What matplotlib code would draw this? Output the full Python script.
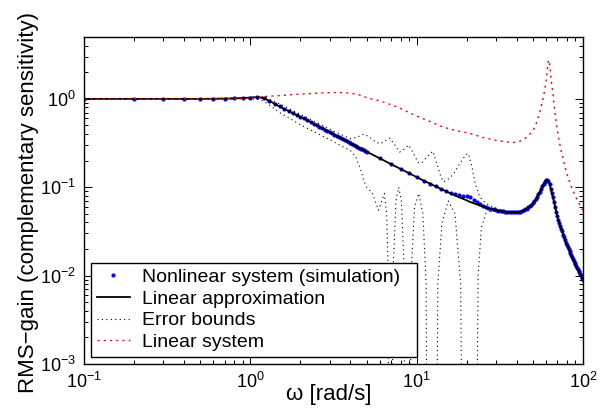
import numpy as np
import matplotlib
matplotlib.use('Agg')
import matplotlib.pyplot as plt
from matplotlib.ticker import LogLocator, NullFormatter

plt.rcParams['font.family'] = ['Liberation Sans', 'DejaVu Sans']
plt.rcParams['mathtext.fontset'] = 'custom'
plt.rcParams['mathtext.rm'] = 'Liberation Sans'
plt.rcParams['mathtext.it'] = 'Liberation Sans:italic'
plt.rcParams['mathtext.default'] = 'regular'

# ---- data ----
omega_sim = np.concatenate([np.arange(1, 51) / 10.0, np.arange(6, 101)])

linear_approx = [
    1.0, 1.0, 1.0, 1.0, 1.0, 1.003, 1.006, 1.012, 1.022, 1.035,
    1.045, 1.02, 0.95, 0.88, 0.82, 0.77, 0.73, 0.69, 0.655, 0.625,
    0.60, 0.573, 0.548, 0.525, 0.504, 0.485, 0.467, 0.45, 0.435, 0.42,
    0.406, 0.394, 0.382, 0.371, 0.36, 0.35, 0.341, 0.332, 0.323, 0.315,
    0.308, 0.30, 0.293, 0.287, 0.28, 0.274, 0.268, 0.263, 0.258, 0.253,
    0.212, 0.183, 0.161, 0.144, 0.13, 0.119, 0.11, 0.102, 0.096, 0.09,
    0.085, 0.081, 0.077, 0.074, 0.071, 0.068, 0.066, 0.064, 0.062, 0.061,
    0.059, 0.058, 0.057, 0.056, 0.055, 0.0545, 0.054, 0.0535, 0.053, 0.0525,
    0.0522, 0.052, 0.052, 0.052, 0.0522, 0.0526, 0.053, 0.054, 0.055, 0.056,
    0.057, 0.059, 0.061, 0.063, 0.066, 0.069, 0.073, 0.078, 0.083, 0.089,
    0.096, 0.103, 0.11, 0.116, 0.12, 0.121, 0.117, 0.108, 0.096, 0.085,
    0.077, 0.068, 0.06, 0.053, 0.047, 0.043, 0.039, 0.036, 0.034, 0.032,
    0.029, 0.027, 0.025, 0.0235, 0.022, 0.021, 0.02, 0.019, 0.0178, 0.017,
    0.0161, 0.0153, 0.0146, 0.014, 0.0134, 0.0128, 0.0123, 0.0118, 0.0114, 0.011,
    0.0105, 0.0101, 0.0097, 0.0093, 0.009,
]

nonlinear_sim = [
    1.0, 1.0, 1.0, 1.0, 1.0, 1.003, 1.006, 1.012, 1.022, 1.035,
    1.045, 1.02, 0.95, 0.88, 0.82, 0.77, 0.73, 0.69, 0.655, 0.625,
    0.60, 0.573, 0.548, 0.525, 0.504, 0.485, 0.467, 0.45, 0.435, 0.42,
    0.406, 0.394, 0.382, 0.371, 0.36, 0.35, 0.341, 0.332, 0.323, 0.315,
    0.308, 0.30, 0.293, 0.287, 0.28, 0.274, 0.268, 0.263, 0.258, 0.253,
    0.212, 0.183, 0.161, 0.144, 0.13, 0.119, 0.11, 0.102, 0.096, 0.09,
    0.086, 0.083, 0.081, 0.080, 0.079, 0.078, 0.072, 0.068, 0.064, 0.061,
    0.059, 0.058, 0.057, 0.056, 0.055, 0.0545, 0.054, 0.0535, 0.053, 0.0525,
    0.0522, 0.052, 0.052, 0.052, 0.0522, 0.0526, 0.053, 0.054, 0.055, 0.056,
    0.057, 0.059, 0.061, 0.063, 0.066, 0.069, 0.073, 0.078, 0.083, 0.089,
    0.096, 0.103, 0.11, 0.116, 0.12, 0.121, 0.117, 0.108, 0.096, 0.085,
    0.077, 0.068, 0.06, 0.053, 0.047, 0.043, 0.039, 0.036, 0.034, 0.032,
    0.029, 0.027, 0.025, 0.0235, 0.022, 0.021, 0.02, 0.019, 0.0178, 0.017,
    0.0161, 0.0153, 0.0146, 0.014, 0.0134, 0.0128, 0.0123, 0.0118, 0.0114, 0.011,
    0.0105, 0.0101, 0.0097, 0.0093, 0.009,
]

linear_system = [
    1.0, 1.0, 1.0, 1.0, 1.0, 1.0, 1.0, 1.005, 1.01, 1.02,
    1.04, 1.06, 1.07, 1.08, 1.09, 1.10, 1.11, 1.12, 1.125, 1.13,
    1.135, 1.14, 1.145, 1.15, 1.155, 1.16, 1.165, 1.17, 1.175, 1.18,
    1.18, 1.18, 1.18, 1.18, 1.18, 1.178, 1.175, 1.17, 1.165, 1.16,
    1.15, 1.14, 1.13, 1.12, 1.11, 1.095, 1.08, 1.065, 1.05, 1.03,
    0.95, 0.86, 0.78, 0.70, 0.64, 0.595, 0.555, 0.52, 0.49, 0.47,
    0.455, 0.44, 0.43, 0.42, 0.415, 0.405, 0.395, 0.385, 0.375, 0.366,
    0.36, 0.354, 0.348, 0.343, 0.339, 0.336, 0.333, 0.33, 0.327, 0.325,
    0.323, 0.322, 0.321, 0.322, 0.324, 0.328, 0.333, 0.34, 0.348, 0.358,
    0.37, 0.385, 0.40, 0.415, 0.435, 0.47, 0.51, 0.56, 0.63, 0.71,
    0.82, 0.95, 1.08, 1.3, 1.6, 2.1, 2.75, 2.5, 1.85, 1.4,
    1.15, 0.85, 0.68, 0.54, 0.45, 0.38, 0.33, 0.29, 0.255, 0.235,
    0.21, 0.19, 0.17, 0.155, 0.143, 0.132, 0.123, 0.115, 0.108, 0.102,
    0.097, 0.092, 0.087, 0.083, 0.079, 0.076, 0.073, 0.07, 0.067, 0.065,
    0.062, 0.06, 0.058, 0.056, 0.054,
]

upper_omega = [0.1, 0.3, 0.6, 0.9, 1.0, 1.1, 1.2, 1.5, 2.0, 2.5, 3.0, 3.5, 4.0,
               4.4, 4.8, 5.2, 5.6, 6.0, 6.4, 6.9, 7.4, 7.9, 8.4, 8.95, 9.6,
               10.2, 10.8, 11.5, 12.5, 13.3, 14.0, 14.5, 15.2, 16.0, 17.0,
               18.0, 19.0, 19.8, 20.5, 21.5, 22.5, 24.0, 26.0, 28.0, 30.0,
               33.0, 36.0, 40.0]
upper_bound = [1.0, 1.0, 1.01, 1.03, 1.04, 1.06, 1.06, 0.88, 0.67, 0.54, 0.455,
               0.395, 0.355, 0.37, 0.40, 0.37, 0.33, 0.31, 0.33, 0.36, 0.30,
               0.25, 0.27, 0.30, 0.24, 0.19, 0.19, 0.22, 0.256, 0.18, 0.13,
               0.115, 0.12, 0.13, 0.15, 0.18, 0.21, 0.235, 0.24, 0.17, 0.11,
               0.077, 0.066, 0.061, 0.058, 0.055, 0.053, 0.053]

lower_omega = [0.1, 0.3, 0.6, 0.9, 1.0, 1.1, 1.2, 1.5, 2.0, 2.5, 3.0, 3.5, 4.0,
               4.3, 4.6, 4.8, 5.0, 5.4, 5.9, 6.4, 6.6, 6.75, 6.8, 7.1, 7.2,
               7.5, 7.8, 8.1, 8.4, 8.5, 9.1, 9.25, 9.7, 10.3, 10.9, 11.4,
               11.6, 13.1, 13.4, 14.2, 15.5, 17.0, 18.4, 18.9, 22.8, 23.4,
               24.5, 26.0, 28.0, 30.0, 33.0, 36.0, 40.0]
lower_bound = [1.0, 1.0, 0.995, 1.0, 1.0, 0.99, 0.95, 0.70, 0.51, 0.41, 0.345,
               0.295, 0.26, 0.22, 0.16, 0.12, 0.1, 0.087, 0.055, 0.085, 0.05,
               0.01, 1e-5, 1e-5, 0.01, 0.07, 0.1, 0.07, 0.012, 1e-5, 1e-5,
               0.01, 0.06, 0.085, 0.05, 0.008, 1e-5, 1e-5, 0.008, 0.04, 0.07,
               0.05, 0.008, 1e-5, 1e-5, 0.01, 0.035, 0.05, 0.054, 0.053,
               0.051, 0.05, 0.051]

# ---- figure ----
fig = plt.figure(figsize=(6.05, 4.08), dpi=100)
ax = fig.add_axes([84 / 605, 1 - 364 / 408, (583 - 84) / 605, (364 - 37) / 408])

h_nl, = ax.plot(omega_sim, nonlinear_sim, linestyle='none', marker='.',
                color='blue', markersize=4, label='Nonlinear system (simulation)')
h_la, = ax.plot(omega_sim, linear_approx, color='black', lw=1.3,
                label='Linear approximation')
h_eb, = ax.plot(upper_omega, upper_bound, color='black', lw=0.8,
                linestyle=(0, (1, 3)), label='Error bounds')
ax.plot(lower_omega, lower_bound, color='black', lw=0.8, linestyle=(0, (1, 3)))
h_ls, = ax.plot(omega_sim, linear_system, color='red', lw=1.0,
                linestyle=(0, (1.5, 3)), label='Linear system')

ax.set_xscale('log')
ax.set_yscale('log')
ax.set_xlim(0.1, 100)
ax.set_ylim(1e-3, 10 ** 0.7)
ax.yaxis.set_major_locator(LogLocator(base=10, numticks=10))
ax.yaxis.set_minor_locator(LogLocator(base=10, subs=np.arange(2, 10), numticks=20))
ax.yaxis.set_minor_formatter(NullFormatter())
ax.xaxis.set_minor_formatter(NullFormatter())

ax.tick_params(which='both', direction='in', top=True, right=True,
               labelsize=13, width=0.7, pad=6)
ax.tick_params(which='major', length=6)
ax.tick_params(which='minor', length=3)
for s in ax.spines.values():
    s.set_linewidth(1.0)

ax.set_xlabel('\u03c9 [rad/s]', fontsize=16)
ax.xaxis.label.set_va('baseline')
ax.xaxis.set_label_coords((329 - 84) / 499, -(400 - 364) / 327)
ax.set_ylabel('RMS\u2212gain (complementary sensitivity)', fontsize=16)
ax.yaxis.set_label_coords((39 - 84) / 499, (364 - 202.5) / 327)

leg = ax.legend(handles=[h_nl, h_la, h_eb, h_ls], loc='lower left',
                bbox_to_anchor=(7 / 499, 7 / 327, 326 / 499, 0.2), mode='expand',
                borderaxespad=0, fontsize=14,
                frameon=True, fancybox=False, edgecolor='black', framealpha=1,
                numpoints=1, handlelength=1.7, handletextpad=0.62,
                labelspacing=0.21, borderpad=0.3)
leg.get_frame().set_linewidth(1.0)

fig.savefig('out.png', dpi=100)
